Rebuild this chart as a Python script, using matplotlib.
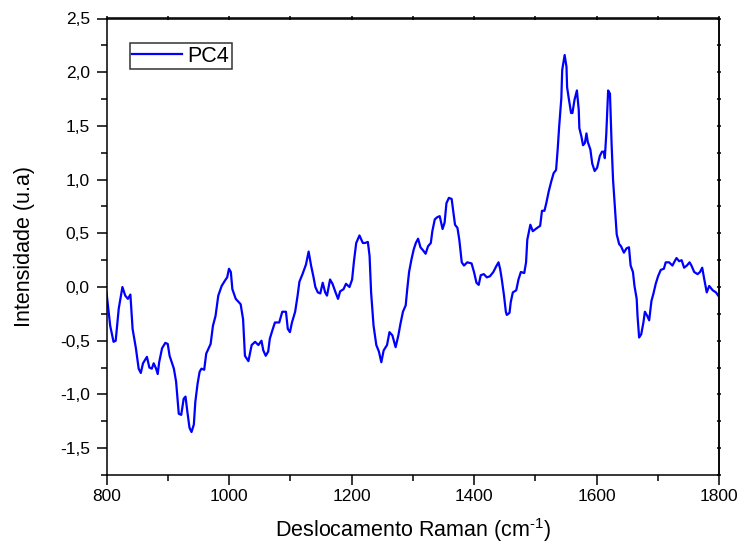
import matplotlib
matplotlib.use('Agg')
import matplotlib.pyplot as plt
from matplotlib.ticker import MultipleLocator, FuncFormatter, NullFormatter

plt.rcParams['font.family'] = ['Liberation Sans', 'DejaVu Sans']
plt.rcParams['mathtext.fontset'] = 'custom'
plt.rcParams['mathtext.rm'] = 'Liberation Sans'
plt.rcParams['mathtext.it'] = 'Liberation Sans:italic'

# Raman shift (cm-1) and PC4 loading
shift = [800, 806, 811.5, 815, 820, 826, 830.6, 835, 839, 842.6, 848, 852.5, 856, 859.6,
         866, 870, 874, 877, 881, 883.6, 886, 890.7, 896, 900, 903, 910, 913.6, 918, 922,
         926, 929, 932, 935.5, 938.8, 942.6, 945, 948.7, 952, 955, 959.5, 962.8, 970,
         973.8, 978, 982.5, 988, 993.4, 997, 1000, 1003, 1005.5, 1011, 1019, 1023, 1026,
         1031.7, 1037, 1042.6, 1048, 1053, 1056, 1060, 1064, 1066.7, 1071, 1075, 1082,
         1087, 1093, 1096, 1099.5, 1102.8, 1108, 1112, 1115, 1120, 1125.7, 1130, 1134,
         1137.7, 1141, 1145, 1149, 1153, 1157, 1160, 1165, 1169, 1174, 1178, 1181.5, 1187,
         1191, 1196.7, 1201, 1204, 1207.7, 1213, 1218.5, 1222, 1226.7, 1229.5, 1232, 1236,
         1240.5, 1244.7, 1248.7, 1252.5, 1258, 1262, 1266.7, 1272, 1276.5, 1280, 1284,
         1288.5, 1291, 1294, 1298, 1301.6, 1305, 1308.7, 1312.6, 1317, 1321, 1325, 1329.5,
         1332, 1336, 1340, 1344, 1348.7, 1352, 1355, 1359, 1363.5, 1366, 1369, 1373, 1376,
         1380, 1383.6, 1389, 1396, 1400, 1404, 1407.7, 1411, 1416, 1421, 1426, 1431.6,
         1436, 1440, 1442.6, 1445.4, 1449, 1452, 1453.6, 1458, 1460, 1463.4, 1469, 1472.6,
         1476.5, 1482, 1485, 1487, 1492, 1496, 1503, 1508, 1511, 1515, 1518, 1522, 1526,
         1530, 1534, 1536.6, 1539, 1542.6, 1544, 1548, 1551, 1552, 1554.6, 1558.5, 1560.7,
         1564, 1568, 1571, 1572, 1575.4, 1578, 1581, 1583.6, 1585.8, 1590, 1593, 1597,
         1601, 1605.4, 1609, 1612, 1613.6, 1616, 1619, 1622, 1624.6, 1627, 1630, 1633,
         1637, 1640, 1644.7, 1649, 1653, 1655.7, 1659.5, 1662, 1665.6, 1667, 1669.6, 1673,
         1676.6, 1679, 1683, 1686, 1689.7, 1693, 1696.7, 1700.5, 1705, 1710, 1713, 1718.5,
         1724, 1726.7, 1730.6, 1735, 1739, 1743, 1747.5, 1752, 1755, 1759.5, 1765, 1769,
         1772.6, 1776, 1780, 1784, 1789.7, 1795, 1800]
pc4 = [-0.05, -0.36, -0.51, -0.50, -0.20, 0.00, -0.08, -0.11, -0.07, -0.39, -0.57, -0.76,
       -0.80, -0.71, -0.65, -0.75, -0.76, -0.71, -0.76, -0.81, -0.70, -0.57, -0.52, -0.53,
       -0.64, -0.76, -0.88, -1.18, -1.19, -1.04, -1.02, -1.16, -1.31, -1.35, -1.28, -1.07,
       -0.90, -0.79, -0.76, -0.77, -0.62, -0.53, -0.36, -0.27, -0.08, 0.01, 0.06, 0.09,
       0.17, 0.14, -0.02, -0.11, -0.16, -0.30, -0.64, -0.69, -0.54, -0.51, -0.54, -0.50,
       -0.59, -0.64, -0.60, -0.48, -0.40, -0.33, -0.33, -0.23, -0.23, -0.39, -0.42, -0.33,
       -0.23, -0.08, 0.05, 0.12, 0.21, 0.33, 0.20, 0.10, 0.00, -0.05, -0.06, 0.04, -0.05,
       -0.08, 0.07, 0.03, -0.05, -0.11, -0.04, -0.02, 0.03, 0.00, 0.07, 0.24, 0.41, 0.48,
       0.41, 0.41, 0.42, 0.29, -0.05, -0.36, -0.54, -0.60, -0.70, -0.59, -0.54, -0.42,
       -0.45, -0.56, -0.45, -0.34, -0.23, -0.17, -0.02, 0.14, 0.26, 0.35, 0.41, 0.45, 0.37,
       0.34, 0.31, 0.38, 0.41, 0.52, 0.63, 0.65, 0.66, 0.54, 0.60, 0.78, 0.83, 0.82, 0.71,
       0.58, 0.55, 0.44, 0.23, 0.20, 0.23, 0.22, 0.14, 0.04, 0.02, 0.11, 0.12, 0.09, 0.10,
       0.14, 0.19, 0.23, 0.17, 0.07, -0.08, -0.23, -0.26, -0.24, -0.14, -0.05, -0.03, 0.07,
       0.14, 0.13, 0.23, 0.44, 0.58, 0.52, 0.55, 0.57, 0.71, 0.71, 0.78, 0.89, 0.98, 1.06,
       1.09, 1.28, 1.49, 1.76, 2.02, 2.16, 2.05, 1.86, 1.76, 1.62, 1.62, 1.74, 1.83, 1.65,
       1.48, 1.40, 1.32, 1.34, 1.43, 1.35, 1.28, 1.15, 1.08, 1.11, 1.22, 1.26, 1.26, 1.20,
       1.43, 1.83, 1.80, 1.34, 1.00, 0.75, 0.49, 0.40, 0.38, 0.32, 0.36, 0.37, 0.20, 0.14,
       0.01, -0.11, -0.27, -0.47, -0.44, -0.33, -0.23, -0.27, -0.31, -0.13, -0.06, 0.03,
       0.10, 0.16, 0.17, 0.23, 0.23, 0.20, 0.23, 0.27, 0.24, 0.25, 0.18, 0.20, 0.23, 0.20,
       0.14, 0.12, 0.14, 0.18, 0.07, -0.05, 0.01, -0.03, -0.05, -0.09]

fig = plt.figure(figsize=(7.42, 5.49), dpi=100)
ax = fig.add_axes([106.5 / 742, 1 - 475 / 549, 612.5 / 742, 456.5 / 549])

ax.plot(shift, pc4, color='#0000ff', lw=1.6, label='PC4')

ax.set_xlim(800, 1800)
ax.set_ylim(-1.75, 2.5)
ax.xaxis.set_major_locator(MultipleLocator(200))
ax.xaxis.set_minor_locator(MultipleLocator(100))
ax.yaxis.set_major_locator(MultipleLocator(0.5))
ax.yaxis.set_minor_locator(MultipleLocator(0.25))
ax.yaxis.set_major_formatter(FuncFormatter(lambda v, p: f'{v:.1f}'.replace('.', ',')))

for s in ax.spines.values():
    s.set_linewidth(1.1)
ax.tick_params(which='major', direction='out', length=7, width=1.1, labelsize=12.5)
ax.tick_params(which='minor', direction='out', length=4, width=1.1)
ax.tick_params(axis='x', which='major', pad=3)
ax.tick_params(axis='y', which='major', pad=5)

# small ticks on the top and right frame lines
for sec in (ax.secondary_xaxis('top'), ax.secondary_yaxis('right')):
    axis = sec.xaxis if sec._orientation == 'x' else sec.yaxis
    axis.set_major_locator(MultipleLocator(200 if sec._orientation == 'x' else 0.5))
    axis.set_minor_locator(MultipleLocator(100 if sec._orientation == 'x' else 0.25))
    axis.set_major_formatter(NullFormatter())
    sec.tick_params(which='both', direction='inout', length=3, width=1.1)
    for s in sec.spines.values():
        s.set_linewidth(1.1)

ax.set_xlabel('Deslocamento Raman (cm$^{\\text{-1}}$)', fontsize=15.5, labelpad=9)
ax.set_ylabel('Intensidade (u.a)', fontsize=15.5, labelpad=18)

leg = ax.legend(loc='upper left', bbox_to_anchor=(0.038, 0.946), borderaxespad=0,
                fontsize=15.5, frameon=True, fancybox=False, handlelength=2.3,
                handletextpad=0.25, borderpad=0.12)
leg.get_frame().set_edgecolor('black')
leg.get_frame().set_linewidth(1.1)

fig.savefig('out.png', dpi=100)
